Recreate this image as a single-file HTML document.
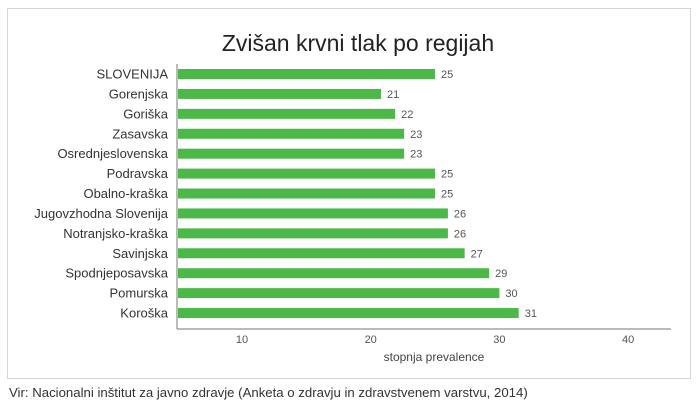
<!DOCTYPE html>
<html><head><meta charset="utf-8"><style>
body{margin:0;background:#fff;width:700px;height:415px;overflow:hidden;font-family:"Liberation Sans",sans-serif}
</style></head><body>
<svg width="700" height="415">
<rect x="7.5" y="8.5" width="683" height="370" fill="#fff" stroke="#d6d6d6"/>
<text x="358" y="51" text-anchor="middle" font-size="23" fill="#222">Zvišan krvni tlak po regijah</text>
<g id="bars"></g>
<line x1="177" y1="329" x2="671" y2="329" stroke="#777"/>
<line x1="177" y1="64" x2="177" y2="329" stroke="#777"/>
<g id="ticks"></g>
<text x="434" y="361" text-anchor="middle" font-size="12" fill="#444">stopnja prevalence</text>
<text x="9" y="397" font-size="13.2" fill="#333">Vir: Nacionalni inštitut za javno zdravje (Anketa o zdravju in zdravstvenem varstvu, 2014)</text>
</svg>
<script>
const categories=["SLOVENIJA","Gorenjska","Goriška","Zasavska","Osrednjeslovenska","Podravska","Obalno-kraška","Jugovzhodna Slovenija","Notranjsko-kraška","Savinjska","Spodnjeposavska","Pomurska","Koroška"];
const values=[25,20.8,21.9,22.6,22.6,25,25,26,26,27.3,29.2,30,31.5];
const labels=["25","21","22","23","23","25","25","26","26","27","29","30","31"];
const ticks=[10,20,30,40];
const NS="http://www.w3.org/2000/svg";
const x=v=>242+(v-10)*12.87;
const y=i=>74+i*19.92;
const bars=document.getElementById('bars');
function mk(t,a,txt){const e=document.createElementNS(NS,t);for(const k in a)e.setAttribute(k,a[k]);if(txt!=null)e.textContent=txt;return e;}
categories.forEach((c,i)=>{
 const r=mk('rect',{x:178,y:y(i)-5,width:x(values[i])-178,height:10,fill:'#4cb847'});
 
 
 bars.appendChild(r);
 const l=mk('text',{x:168,y:y(i)+4.5,'text-anchor':'end','font-size':13,fill:'#333'},c);
 
 
 bars.appendChild(l);
 const v=mk('text',{x:x(values[i])+6,y:y(i)+4,'font-size':11,fill:'#555'},labels[i]);
 
 
 bars.appendChild(v);
});
const tg=document.getElementById('ticks');
ticks.forEach(t=>{
 const e=mk('text',{x:x(t),y:343,'text-anchor':'middle','font-size':11,fill:'#555'},String(t));
 
 
 tg.appendChild(e);
});
</script>
</body></html>
